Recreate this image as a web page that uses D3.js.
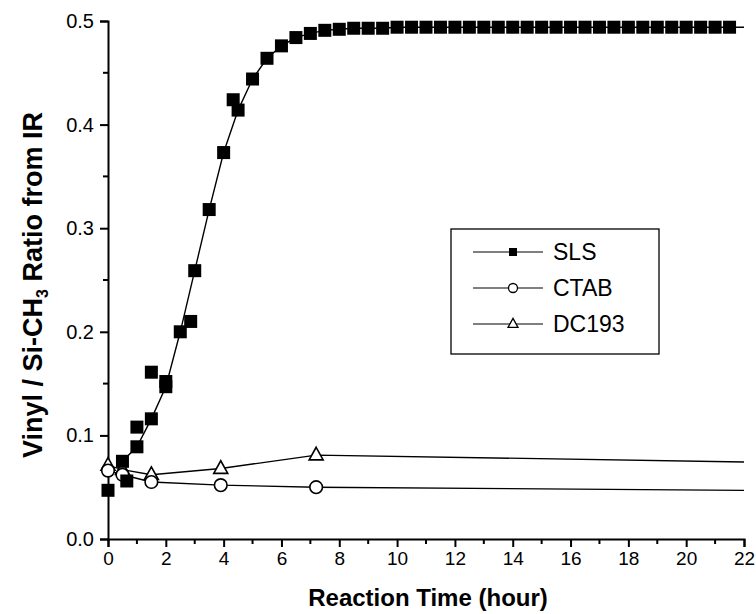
<!DOCTYPE html>
<meta charset="utf-8">
<script src="https://d3js.org/d3.v7.min.js"></script>
<style>
  body { margin: 0; background: #fff; }
  text { font-family: "Liberation Sans", Arial, sans-serif; }
</style>
<div id="chart"></div>
<script>
// ---- data ----
// SLS: fitted curve drawn with symbols every half hour
const slsCurveT = [0.5, 1, 1.5, 2, 2.5, 3, 3.5, 4, 4.5, 5, 5.5, 6, 6.5, 7, 7.5, 8,
  8.5, 9, 9.5, 10, 10.5, 11, 11.5, 12, 12.5, 13, 13.5, 14, 14.5, 15, 15.5, 16,
  16.5, 17, 17.5, 18, 18.5, 19, 19.5, 20, 20.5, 21, 21.5, 24];
const slsCurveY = [0.075, 0.089, 0.116, 0.147, 0.200, 0.259, 0.318, 0.373, 0.414, 0.444, 0.464, 0.476, 0.484, 0.488, 0.491, 0.492,
  0.493, 0.493, 0.493, 0.494, 0.494, 0.494, 0.494, 0.494, 0.494, 0.494, 0.494, 0.494, 0.494, 0.494, 0.494, 0.494,
  0.494, 0.494, 0.494, 0.494, 0.494, 0.494, 0.494, 0.494, 0.494, 0.494, 0.494, 0.494];
// SLS: measured points off the curve
const slsExtraT = [0, 0.65, 1.0, 1.5, 2.0, 2.86, 4.33];
const slsExtraY = [0.047, 0.056, 0.108, 0.161, 0.152, 0.210, 0.424];

const ctabT = [0, 0.5, 1.5, 3.9, 7.2, 24];
const ctabY = [0.066, 0.062, 0.055, 0.052, 0.050, 0.0465];

const dcT = [0, 0.5, 1.5, 3.9, 7.2, 24];
const dcY = [0.071, 0.067, 0.062, 0.068, 0.081, 0.0735];

const xTicks = d3.range(0, 23, 2);
const yTicks = [0.0, 0.1, 0.2, 0.3, 0.4, 0.5];
const legendNames = ["SLS", "CTAB", "DC193"];

// ---- layout ----
const W = 756, H = 614;
const margin = {top: 21, right: 12, bottom: 75, left: 108};
const width = W - margin.left - margin.right,
      height = H - margin.top - margin.bottom;

const svg = d3.select("#chart").append("svg")
  .attr("width", W).attr("height", H);
const g = svg.append("g")
  .attr("transform", `translate(${margin.left},${margin.top})`);

const x = d3.scaleLinear().domain([0, 22]).range([0, width]);
const y = d3.scaleLinear().domain([0, 0.5]).range([height, 0]);

// axes
const xAxis = g.append("g")
  .attr("transform", `translate(0,${height})`)
  .call(d3.axisBottom(x).tickValues(xTicks).tickFormat(d3.format("d")).tickSizeOuter(0).tickSize(8).tickPadding(5));
xAxis.selectAll(".tick line").attr("stroke-width", 2);
xAxis.select(".domain").attr("stroke-width", 2);
xAxis.selectAll("text").style("font-size", "19px").attr("fill", "#000");
// minor x ticks
g.append("g").selectAll("line")
  .data(d3.range(1, 22, 2))
  .join("line")
    .attr("x1", d => x(d)).attr("x2", d => x(d))
    .attr("y1", height).attr("y2", height + 5)
    .attr("stroke", "#000").attr("stroke-width", 2);

const yAxis = g.append("g")
  .call(d3.axisLeft(y).tickValues(yTicks).tickFormat(d3.format(".1f")).tickSizeOuter(0).tickSize(8).tickPadding(6));
yAxis.selectAll(".tick line").attr("stroke-width", 2);
yAxis.select(".domain").attr("stroke-width", 2);
yAxis.selectAll("text").style("font-size", "20px").attr("fill", "#000");
g.append("g").selectAll("line")
  .data([0.05, 0.15, 0.25, 0.35, 0.45])
  .join("line")
    .attr("x1", 0).attr("x2", -5)
    .attr("y1", d => y(d)).attr("y2", d => y(d))
    .attr("stroke", "#000").attr("stroke-width", 2);

// axis titles
svg.append("text")
  .attr("x", margin.left + width / 2 + 2).attr("y", 606)
  .attr("text-anchor", "middle")
  .style("font-size", "24px").style("font-weight", "bold")
  .text("Reaction Time (hour)");

const yt = svg.append("text")
  .attr("transform", `translate(42,285) rotate(-90)`)
  .attr("text-anchor", "middle")
  .style("font-size", "27px").style("font-weight", "bold");
yt.append("tspan").text("Vinyl / Si-CH");
yt.append("tspan").attr("dy", 6).style("font-size", "16px").text("3");
yt.append("tspan").attr("dy", -6).text(" Ratio from IR");

// clip at right edge
svg.append("clipPath").attr("id", "clip")
  .append("rect").attr("x", -20).attr("y", -20).attr("width", width + 20).attr("height", height + 40);
const plot = g.append("g").attr("clip-path", "url(#clip)");

const line = d3.line().x(d => x(d[0])).y(d => y(d[1]));
const zip = (a, b) => a.map((v, i) => [v, b[i]]);

const slsCurve = zip(slsCurveT, slsCurveY);
const slsExtra = zip(slsExtraT, slsExtraY);
const ctab = zip(ctabT, ctabY);
const dc = zip(dcT, dcY);

[dc, ctab, slsCurve].forEach(s => {
  plot.append("path").datum(s)
    .attr("d", line)
    .attr("fill", "none").attr("stroke", "#000").attr("stroke-width", 1.4);
});

const triPath = (s) => {
  const h = s * 0.9;
  return `M0,${-h * 0.62}L${s / 2},${h * 0.38}L${-s / 2},${h * 0.38}Z`;
};

// DC193 triangles
plot.selectAll(".tri").data(dc).join("path")
  .attr("transform", d => `translate(${x(d[0])},${y(d[1])})`)
  .attr("d", triPath(14))
  .attr("fill", "#fff").attr("stroke", "#000").attr("stroke-width", 1.6);

// CTAB circles
plot.selectAll(".circ").data(ctab).join("circle")
  .attr("cx", d => x(d[0])).attr("cy", d => y(d[1])).attr("r", 6.3)
  .attr("fill", "#fff").attr("stroke", "#000").attr("stroke-width", 1.6);

// SLS squares
const sq = 13;
plot.selectAll(".sq").data(slsCurve.concat(slsExtra)).join("rect")
  .attr("x", d => x(d[0]) - sq / 2).attr("y", d => y(d[1]) - sq / 2)
  .attr("width", sq).attr("height", sq).attr("fill", "#000");

// legend
const lg = svg.append("g");
lg.append("rect")
  .attr("x", 451).attr("y", 229).attr("width", 208).attr("height", 125)
  .attr("fill", "#fff").attr("stroke", "#000").attr("stroke-width", 1.3);
const rowY = [252, 288, 324];
legendNames.forEach((name, i) => {
  const ry = rowY[i];
  lg.append("line").attr("x1", 473).attr("x2", 543).attr("y1", ry).attr("y2", ry)
    .attr("stroke", "#000").attr("stroke-width", 1.2);
  if (i === 0) {
    lg.append("rect").attr("x", 509).attr("y", ry - 4).attr("width", 8).attr("height", 8).attr("fill", "#000");
  } else if (i === 1) {
    lg.append("circle").attr("cx", 513).attr("cy", ry).attr("r", 4.5)
      .attr("fill", "#fff").attr("stroke", "#000").attr("stroke-width", 1.3);
  } else {
    lg.append("path").attr("transform", `translate(513,${ry})`).attr("d", triPath(10))
      .attr("fill", "#fff").attr("stroke", "#000").attr("stroke-width", 1.3);
  }
  lg.append("text").attr("x", 553).attr("y", ry + 8)
    .style("font-size", "23px").text(name);
});
</script>
